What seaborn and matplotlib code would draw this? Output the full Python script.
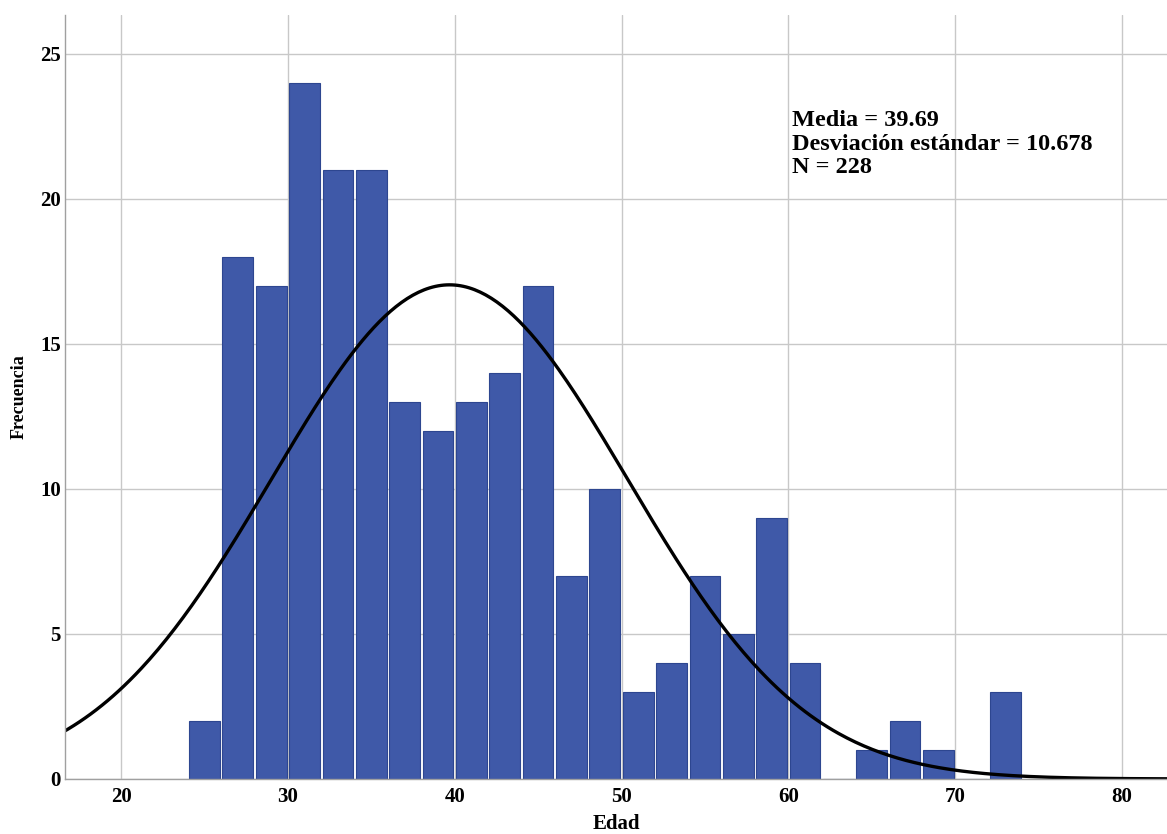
import numpy as np
import pandas as pd
import seaborn as sns
import matplotlib.pyplot as plt

# bin edges (width 2) and frequencies
bin_left = [24, 26, 28, 30, 32, 34, 36, 38, 40, 42, 44, 46, 48, 50, 52, 54, 56, 58, 60, 62, 64, 66, 68, 70, 72]
counts = [2, 18, 17, 24, 21, 21, 13, 12, 13, 14, 17, 7, 10, 3, 4, 7, 5, 9, 4, 0, 1, 2, 1, 0, 3]
bin_width = 2
media = 39.69
desv = 10.678
n = 228

df = pd.DataFrame({'Edad': [b + bin_width / 2 for b in bin_left], 'Frecuencia': counts})
edges = bin_left + [bin_left[-1] + bin_width]

sns.set_style('white')
plt.rcParams['font.family'] = ['Liberation Serif', 'DejaVu Serif']
plt.rcParams['text.color'] = 'black'
plt.rcParams['axes.labelcolor'] = 'black'
plt.rcParams['xtick.color'] = 'black'
plt.rcParams['ytick.color'] = 'black'

fig = plt.figure(figsize=(11.67, 8.34), dpi=100)
ax = fig.add_axes([0.0557, 0.066, 0.9443, 0.916])

sns.histplot(data=df, x='Edad', weights='Frecuencia', bins=edges, ax=ax,
             color='#3f59a8', alpha=1, edgecolor='#2d4690', linewidth=0.8, zorder=2)
# white gaps between bars
for p in ax.patches:
    p.set_x(p.get_x() + 0.08)
    p.set_width(p.get_width() - 0.16)

# fitted normal curve
xs = np.linspace(16, 83, 400)
ys = n * bin_width / (desv * np.sqrt(2 * np.pi)) * np.exp(-0.5 * ((xs - media) / desv) ** 2)
sns.lineplot(x=xs, y=ys, ax=ax, color='black', linewidth=2.4, zorder=3)

ax.set_xlim(16.64, 82.7)
ax.set_ylim(0, 26.34)
ax.set_xticks([20, 30, 40, 50, 60, 70, 80])
ax.set_yticks([0, 5, 10, 15, 20, 25])
ax.grid(True, color='#c8c8c8', linewidth=1, zorder=0)
ax.set_axisbelow(True)
for s in ['top', 'right']:
    ax.spines[s].set_visible(False)
for s in ['left', 'bottom']:
    ax.spines[s].set_color('#a0a0a0')
    ax.spines[s].set_linewidth(1)
    ax.spines[s].set_zorder(4)
ax.tick_params(axis='both', length=0, labelsize=15, labelcolor='black')
ax.tick_params(axis='x', pad=6)
ax.tick_params(axis='y', pad=3)
for lab in ax.get_xticklabels() + ax.get_yticklabels():
    lab.set_fontweight('bold')

ax.set_xlabel('Edad', fontsize=15, fontweight='bold', labelpad=5, color='black')
ax.set_ylabel('Frecuencia', fontsize=13, fontweight='bold', labelpad=9, color='black')

ax.text(60.2, 23.05, f'Media = {media}\nDesviación estándar = {desv}\nN = {n}',
        fontsize=17.5, fontweight='bold', va='top', ha='left', linespacing=1.15,
        color='black', zorder=5)

fig.savefig('out.png', dpi=100)
